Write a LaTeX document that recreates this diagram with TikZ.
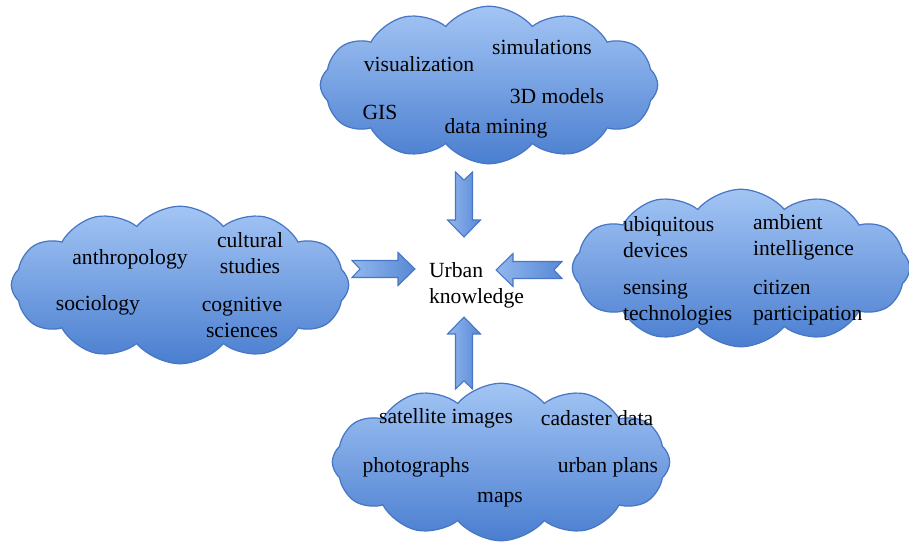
\documentclass[tikz,border=0pt]{standalone}
\usepackage{fontspec}
\setmainfont{Liberation Serif}
\usetikzlibrary{shapes.symbols,calc}
\definecolor{cloudtop}{HTML}{A3C5F4}
\definecolor{cloudbot}{HTML}{4A7ED0}
\definecolor{cloudedge}{HTML}{4676C4}
\newcommand{\wordfont}{\fontsize{12.3}{14.8}\selectfont}
\tikzset{
  puff/.style={cloud, cloud puffs=12, cloud puff arc=100, aspect=2.3,
    draw=cloudedge, line width=0.7pt, top color=cloudtop, bottom color=cloudbot,
    inner sep=0pt, minimum width=6.75cm, minimum height=3.15cm},
  word/.style={font=\wordfont, inner sep=1pt},
  notched/.style={draw=cloudedge, line width=0.6pt, left color=cloudtop!80!cloudbot,
    right color=cloudbot!85!cloudtop, to path={
      ($(\tikztotarget)!0.34cm!(\tikztostart)$) coordinate (nb)
      ($(\tikztostart)!0.16cm!(\tikztotarget)$)
      -- ($(\tikztostart)!0.17cm!90:(\tikztotarget)$)
      -- ($(nb)!0.17cm!90:(\tikztotarget)$)
      -- ($(nb)!0.33cm!90:(\tikztotarget)$)
      -- (\tikztotarget)
      -- ($(nb)!0.33cm!-90:(\tikztotarget)$)
      -- ($(nb)!0.17cm!-90:(\tikztotarget)$)
      -- ($(\tikztostart)!0.17cm!-90:(\tikztotarget)$)
      -- cycle}},
}
\begin{document}
\begin{tikzpicture}[x=0.02cm, y=-0.02cm]
  \useasboundingbox (0,0) rectangle (909,544);
  % the four clouds
  \node[puff] (tools) at (489,85) {};
  \node[puff] (social) at (180,285) {};
  \node[puff] (sensing) at (741,268) {};
  \node[puff] (data) at (501,462) {};
  % centre
  \node[word, align=left, anchor=west] (urban) at (427,285) {Urban\\knowledge};
  % top cloud
  \node[word] (vis) at (419,64) {visualization};
  \node[word] (sim) at (542,47) {simulations};
  \node[word] (models) at (557,96) {3D models};
  \node[word] (gis) at (380,112) {GIS};
  \node[word] (mining) at (496,128) {data mining};
  % left cloud
  \node[word] (anthro) at (130,259) {anthropology};
  \node[word, align=center] (cult) at (250,253) {cultural\\studies};
  \node[word] (socio) at (98,305) {sociology};
  \node[word, align=center] (cogn) at (242,317) {cognitive\\sciences};
  % right cloud
  \node[word, align=left, anchor=west] (ubi) at (621,237) {ubiquitous\\devices};
  \node[word, align=left, anchor=west] (amb) at (751,237) {ambient\\intelligence};
  \node[word, align=left, anchor=west] (sens) at (621,303) {sensing\\technologies};
  \node[word, align=left, anchor=west] (citz) at (751,303) {citizen\\participation};
  % bottom cloud
  \node[word] (sat) at (446,418) {satellite images};
  \node[word] (cad) at (597,418) {cadaster data};
  \node[word] (photo) at (416,467) {photographs};
  \node[word] (plans) at (608,467) {urban plans};
  \node[word] (maps) at (500,500) {maps};
  % arrow ends
  \coordinate (tools-out) at (464,172);
  \coordinate (urban-n) at (464,237);
  \coordinate (social-out) at (352,269);
  \coordinate (urban-w) at (415,269);
  \coordinate (sensing-out) at (562,270);
  \coordinate (urban-e) at (496,270);
  \coordinate (data-out) at (464,389);
  \coordinate (urban-s) at (464,317);
  \draw[notched] (tools-out) to (urban-n);
  \draw[notched] (social-out) to (urban-w);
  \draw[notched] (sensing-out) to (urban-e);
  \draw[notched] (data-out) to (urban-s);
\end{tikzpicture}
\end{document}
